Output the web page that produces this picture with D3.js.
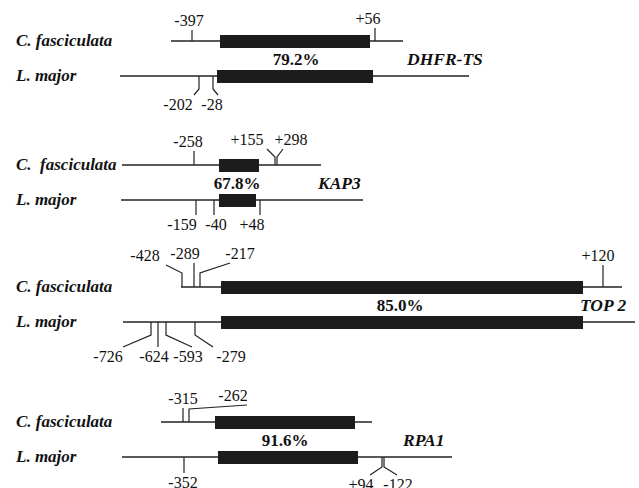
<!DOCTYPE html>
<html>
<head>
<meta charset="utf-8">
<title>Gene maps</title>
<style>
  body { margin: 0; background: #fff; }
  text { font-family: "Liberation Serif", "Times New Roman", serif; fill: #111; }
</style>
</head>
<body>
<script src="https://cdnjs.cloudflare.com/ajax/libs/d3/7.8.5/d3.min.js"></script>
<script>
// ---- data (map units, 0 = start of the ORF box) ----
var genes = ["DHFR-TS", "KAP3", "TOP 2", "RPA1"];
var identity = ["79.2%", "67.8%", "85.0%", "91.6%"];
var species = ["C. fasciculata", "L. major"];
var speciesKap = ["C.\u00a0 fasciculata", "L. major"];

// flanking line [start, end] per gene, per species
var flank = [
  [[-49, 183], [-100, 249]],
  [[-98, 101], [-99, 143]],
  [[-39, 402], [-97, 415]],
  [[-59, 152], [-98, 232]]
];
// ORF box [start, end]
var orf = [
  [[0, 150], [-3, 153]],
  [[-1, 39], [-1, 36]],
  [[1, 363], [1, 363]],
  [[-5, 135], [-2, 138]]
];
// sites: gene, species, label, position, stem, lean, rise, label position
var sites = [
  [0, 0, "-397", -28, 11, 0, 0, -31],
  [0, 0, "+56", 155, 13, 0, 0, 148],
  [0, 1, "-202", -21, 13, -5, 6, -42],
  [0, 1, "-28", -7, 13, 5, 6, -8],
  [1, 0, "-258", -26, 14, 0, 0, -32],
  [1, 0, "+155", 55, 8, -8, 8, 27],
  [1, 0, "+298", 57, 8, 6, 8, 71],
  [1, 1, "-159", -24, 15, 0, 0, -38],
  [1, 1, "-40", -6, 15, 0, 0, -4],
  [1, 1, "+48", 40, 15, 0, 0, 32],
  [2, 0, "-428", -38, 14, -16, 8, -75],
  [2, 0, "-289", -26, 24, 0, 0, -35],
  [2, 0, "-217", -20, 14, 30, 10, 20],
  [2, 0, "+120", 383, 22, 0, 0, 378],
  [2, 1, "-726", -69, 13, -28, 12, -112],
  [2, 1, "-624", -62, 25, 0, 0, -66],
  [2, 1, "-593", -54, 13, 26, 12, -32],
  [2, 1, "-279", -25, 13, 18, 12, 11],
  [3, 0, "-315", -37, 14, 0, 0, -37],
  [3, 0, "-262", -31, 13, 58, 4, 13],
  [3, 1, "-352", -36, 16, 0, 0, -37],
  [3, 1, "+94", 162, 10, -12, 8, 141],
  [3, 1, "-122", 164, 10, 13, 8, 178]
];
// where the identity and gene name sit
var identityAt = [76, 17, 180, 65];
var geneNameAt = [187, 98, 360, 183];

// ---- layout ----
var W = 639, H = 488;
var rowTop = [41, 165, 287, 422];
var pairGap = 35;
var boxH = 13;

var x = d3.scaleLinear().domain([-100, 420]).range([120, 640]);
function lineY(g, s) { return rowTop[g] + s * pairGap; }

var svg = d3.select("body").append("svg")
  .attr("width", W)
  .attr("height", H);

genes.forEach(function(gene, g){
  var grp = svg.append("g").attr("class", "gene");
  species.forEach(function(sp, s){
    var y = lineY(g, s);
    grp.append("text")
      .attr("x", 16)
      .attr("y", y + 5)
      .style("font-size", "17px")
      .style("font-weight", "bold")
      .style("font-style", "italic")
      .text(g == 1 ? speciesKap[s] : sp);
    grp.append("line")
      .attr("x1", x(flank[g][s][0]))
      .attr("x2", x(flank[g][s][1]))
      .attr("y1", y).attr("y2", y)
      .style("stroke", "#222")
      .style("stroke-width", 1.3);
    grp.append("rect")
      .attr("x", x(orf[g][s][0]))
      .attr("y", y - 6)
      .attr("width", x(orf[g][s][1]) - x(orf[g][s][0]))
      .attr("height", boxH)
      .style("fill", "#1c1c1c");
  });
  var mid = rowTop[g] + pairGap / 2;
  grp.append("text")
    .attr("x", x(identityAt[g]))
    .attr("y", mid + 6)
    .attr("text-anchor", "middle")
    .style("font-size", "17px")
    .style("font-weight", "bold")
    .text(identity[g]);
  grp.append("text")
    .attr("x", x(geneNameAt[g]))
    .attr("y", mid + 6)
    .style("font-size", "17.5px")
    .style("font-weight", "bold")
    .style("font-style", "italic")
    .text(gene);
});

// site ticks: C. fasciculata ticks go up, L. major ticks go down
var siteG = svg.append("g").attr("class", "sites");
sites.forEach(function(d){
  var g = d[0], s = d[1];
  var dir = s == 0 ? -1 : 1;
  var y0 = lineY(g, s);
  var x0 = x(d[3]);
  var yk = y0 + dir * d[4];
  var pts = [[x0, y0], [x0, yk]];
  if (d[6] > 0) pts.push([x0 + d[5], yk + dir * d[6]]);
  var yEnd = pts[pts.length - 1][1];
  siteG.append("path")
    .attr("d", d3.line()(pts))
    .style("fill", "none")
    .style("stroke", "#222")
    .style("stroke-width", 1.2);
  siteG.append("text")
    .attr("x", x(d[7]))
    .attr("y", dir < 0 ? yEnd - 4 : yEnd + 15)
    .attr("text-anchor", "middle")
    .style("font-size", "16px")
    .text(d[2]);
});
</script>
</body>
</html>
